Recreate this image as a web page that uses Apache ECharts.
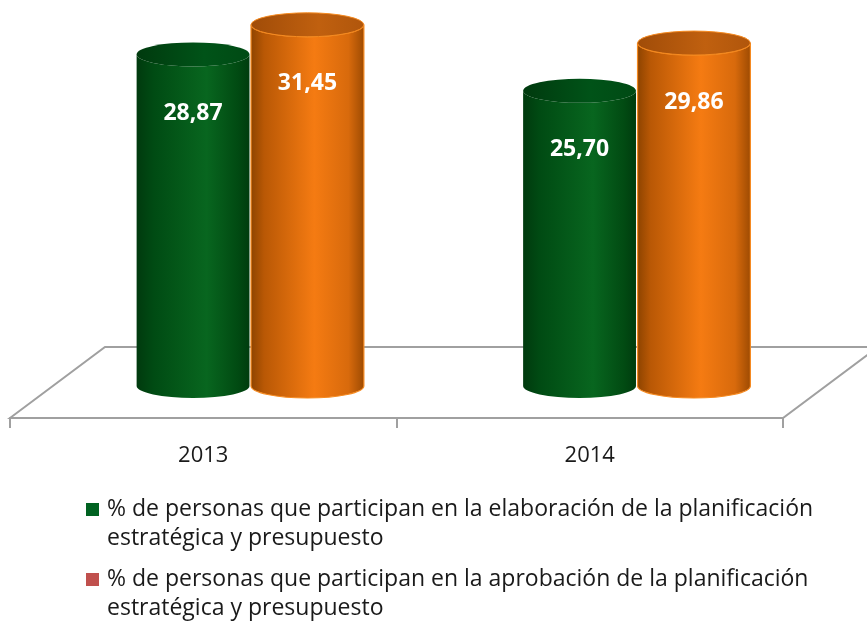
<!DOCTYPE html>
<html>
<head>
<meta charset="utf-8">
<script src="https://cdn.jsdelivr.net/npm/echarts@6/dist/echarts.min.js"></script>
<style>
  html, body { margin: 0; padding: 0; background: #fff; }
  #chart { width: 867px; height: 626px; }
</style>
</head>
<body>
<div id="chart"></div>
<script>
// datos
const years = ['2013', '2014'];
const elaboracion = [28.87, 25.70];
const aprobacion = [31.45, 29.86];
const seriesNames = [
    '% de personas que participan en la elaboración de la planificación estratégica y presupuesto',
    '% de personas que participan en la aprobación de la planificación estratégica y presupuesto'
];

const FONT = '"Open Sans", "Noto Sans", sans-serif';

function grad(stops) {
    return {
        type: 'linear', x: 0, y: 0, x2: 1, y2: 0,
        colorStops: stops.map(function (s) { return { offset: s[0], color: s[1] }; })
    };
}

// cilindro 3D dibujado a partir de las coordenadas del eje
function cylinder(side, bodyFill, capFill, stroke) {
    return function (params, api) {
        const top = api.coord([api.value(0), api.value(1)]);
        const base = api.coord([api.value(0), 0]);
        const band = api.size([1, 0])[0];
        const r = band * 0.146;
        const cx = top[0] + side * band * 0.148;
        const ry = 12;
        const yt = top[1], yb = base[1];
        const body = 'M' + (cx - r) + ',' + yt + ' L' + (cx - r) + ',' + yb +
            ' A' + r + ',' + ry + ' 0 0 0 ' + (cx + r) + ',' + yb +
            ' L' + (cx + r) + ',' + yt +
            ' A' + r + ',' + ry + ' 0 0 1 ' + (cx - r) + ',' + yt + ' Z';
        const cap = 'M' + (cx - r) + ',' + yt +
            ' A' + r + ',' + ry + ' 0 1 0 ' + (cx + r) + ',' + yt +
            ' A' + r + ',' + ry + ' 0 1 0 ' + (cx - r) + ',' + yt + ' Z';
        return {
            type: 'group',
            children: [
                { type: 'path', shape: { pathData: body }, style: { fill: bodyFill, stroke: stroke || null, lineWidth: stroke ? 1.2 : 0 } },
                { type: 'path', shape: { pathData: cap }, style: { fill: capFill, stroke: stroke || null, lineWidth: stroke ? 1 : 0 } },
                {
                    type: 'text',
                    style: {
                        text: api.value(1).toFixed(2).replace('.', ','),
                        x: cx, y: yt + 59,
                        align: 'center', verticalAlign: 'middle',
                        fill: '#fff', font: 'bold 23px ' + FONT
                    }
                }
            ]
        };
    };
}

const greenBody = grad([[0, '#003a0e'], [0.15, '#004b13'], [0.62, '#08661f'], [0.9, '#014a12'], [1, '#003c0e']]);
const greenCap = grad([[0, '#003a0e'], [0.6, '#005318'], [1, '#004a14']]);
const orangeBody = grad([[0, '#8c4300'], [0.12, '#b95805'], [0.56, '#f57b12'], [0.86, '#d86a0c'], [1, '#9c4a02']]);
const orangeCap = grad([[0, '#a04c08'], [0.6, '#c0600f'], [1, '#b0560c']]);

var myChart = echarts.init(document.getElementById('chart'));

var option = {
    animation: false,
    grid: [
        { left: 10, right: 84, top: 10, bottom: 208 },
        { left: 57, right: 37, top: 7, bottom: 240 }
    ],
    xAxis: [
        {
            type: 'category', gridIndex: 0, data: years,
            axisLine: { show: true, lineStyle: { color: '#a0a0a0', width: 2 } },
            axisTick: { show: true, alignWithLabel: false, interval: 0, length: 10, lineStyle: { color: '#a0a0a0', width: 2 } },
            axisLabel: { color: '#1a1a1a', fontSize: 22, fontFamily: FONT, margin: 27 }
        },
        { type: 'category', gridIndex: 1, data: years, show: false }
    ],
    yAxis: [
        { type: 'value', gridIndex: 0, show: false },
        { type: 'value', gridIndex: 1, min: 0, max: 33, show: false }
    ],
    graphic: [
        {
            type: 'polygon', silent: true, z: 0,
            shape: { points: [[10, 418], [105, 347], [878, 347], [783, 418]] },
            style: { fill: '#fff', stroke: '#a0a0a0', lineWidth: 2 }
        }
    ],
    legend: {
        orient: 'vertical',
        left: 76, top: 493,
        itemWidth: 0, itemHeight: 0, itemGap: 18,
        data: seriesNames,
        formatter: function (name) {
            const idx = seriesNames.indexOf(name);
            const parts = name.split('planificación ');
            return '{m' + idx + '|}{t|' + parts[0] + 'planificación}\n{sp|}{t|' + parts[1] + '}';
        },
        textStyle: {
            rich: {
                m0: { width: 13, height: 13, backgroundColor: '#006221' },
                m1: { width: 13, height: 13, backgroundColor: '#c0504d' },
                sp: { width: 13, height: 13 },
                t: { fontSize: 23, lineHeight: 29, fontFamily: FONT, color: '#1a1a1a', padding: [0, 0, 0, 8] }
            }
        }
    },
    series: [
        {
            name: seriesNames[0], type: 'custom', xAxisIndex: 1, yAxisIndex: 1, clip: false,
            itemStyle: { color: '#006221' },
            renderItem: cylinder(-1, greenBody, greenCap, null),
            data: years.map(function (y, i) { return [i, elaboracion[i]]; })
        },
        {
            name: seriesNames[1], type: 'custom', xAxisIndex: 1, yAxisIndex: 1, clip: false,
            itemStyle: { color: '#c0504d' },
            renderItem: cylinder(1, orangeBody, orangeCap, '#f58a20'),
            data: years.map(function (y, i) { return [i, aprobacion[i]]; })
        }
    ]
};

myChart.setOption(option);
</script>
</body>
</html>
